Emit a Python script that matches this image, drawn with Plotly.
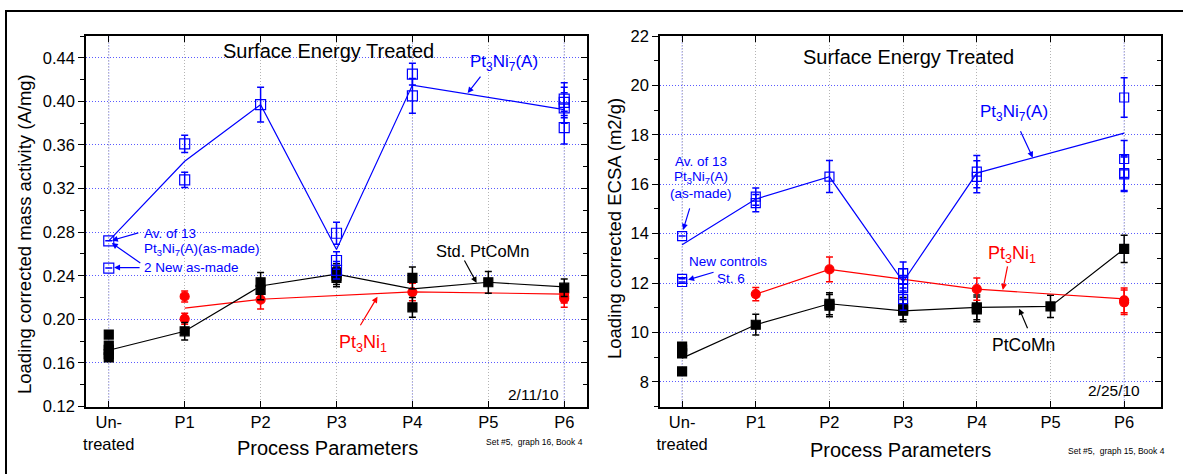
import plotly.graph_objects as go

# ---------------- data ----------------
cat_keys = ["U", "P1", "P2", "P3", "P4", "P5", "P6"]
cat_labels = ["Un-<br>treated", "P1", "P2", "P3", "P4", "P5", "P6"]

# Left: mass activity (A/mg)
ma_pt37_x = ["U", "U", "P1", "P1", "P2", "P3", "P3", "P3", "P4", "P4", "P6", "P6", "P6", "P6"]
ma_pt37_y = [0.272, 0.247, 0.361, 0.328, 0.397, 0.279, 0.254, 0.245, 0.425, 0.405, 0.402, 0.399, 0.394, 0.376]
ma_pt37_e = [0, 0, 0.008, 0.007, 0.016, 0.010, 0.008, 0.008, 0.010, 0.016, 0.015, 0.014, 0.014, 0.015]
ma_pt37_line_x = ["U", "P1", "P2", "P3", "P4", "P6"]
ma_pt37_line_y = [0.272, 0.345, 0.397, 0.264, 0.415, 0.3925]

ma_pt31_x = ["P1", "P1", "P2", "P4", "P6", "P6", "P6"]
ma_pt31_y = [0.221, 0.2005, 0.218, 0.225, 0.224, 0.221, 0.219]
ma_pt31_e = [0.005, 0.005, 0.0085, 0.008, 0.006, 0.006, 0.008]
ma_pt31_line_x = ["P1", "P2", "P4", "P6"]
ma_pt31_line_y = [0.2103, 0.2184, 0.2252, 0.2232]

ma_pcm_x = ["U", "U", "U", "U", "U", "P1", "P2", "P2", "P3", "P3", "P3", "P4", "P4", "P5", "P6"]
ma_pcm_y = [0.186, 0.176, 0.172, 0.168, 0.165, 0.189, 0.234, 0.227, 0.243, 0.240, 0.238, 0.238, 0.211, 0.234, 0.229]
ma_pcm_e = [0, 0, 0, 0, 0, 0.008, 0.009, 0.009, 0.008, 0.008, 0.008, 0.010, 0.009, 0.010, 0.008]
ma_pcm_line_x = ["U", "P1", "P2", "P3", "P4", "P5", "P6"]
ma_pcm_line_y = [0.1716, 0.189, 0.2306, 0.2414, 0.228, 0.234, 0.2297]

# Right: ECSA (m2/g)
ec_pt37_x = ["U", "U", "U", "P1", "P1", "P2", "P3", "P3", "P3", "P3", "P4", "P4", "P6", "P6", "P6", "P6"]
ec_pt37_y = [13.9, 12.17, 12.04, 15.5, 15.23, 16.31, 12.4, 12.13, 11.79, 11.35, 16.51, 16.3, 19.51, 17.02, 16.45, 16.4]
ec_pt37_e = [0, 0, 0, 0.35, 0.35, 0.65, 0.45, 0.45, 0.45, 0.45, 0.65, 0.65, 0.8, 0.75, 0.7, 0.7]
ec_pt37_line_x = ["U", "P1", "P2", "P3", "P4", "P6"]
ec_pt37_line_y = [13.55, 15.4, 16.3, 12.05, 16.45, 18.07]

ec_pt31_x = ["P1", "P2", "P4", "P6", "P6"]
ec_pt31_y = [11.55, 12.55, 11.75, 11.3, 11.22]
ec_pt31_e = [0.27, 0.5, 0.45, 0.5, 0.5]
ec_pt31_line_x = ["P1", "P2", "P4", "P6"]
ec_pt31_line_y = [11.55, 12.55, 11.75, 11.36]

ec_pcm_x = ["U", "U", "U", "U", "P1", "P2", "P2", "P3", "P3", "P4", "P4", "P5", "P6"]
ec_pcm_y = [9.43, 9.3, 9.15, 8.42, 10.31, 11.16, 11.08, 10.96, 10.88, 11.01, 10.93, 11.05, 13.38]
ec_pcm_e = [0, 0, 0, 0, 0.42, 0.45, 0.45, 0.45, 0.45, 0.5, 0.5, 0.45, 0.55]
ec_pcm_line_x = ["U", "P1", "P2", "P3", "P4", "P5", "P6"]
ec_pcm_line_y = [8.96, 10.31, 11.16, 10.87, 11.01, 11.05, 13.38]


def ix(keys):
    return [cat_keys.index(k) for k in keys]


BLUE = "#0000ff"
RED = "#ff0000"
BLACK = "#000000"
FONT = "Arial, Liberation Sans, sans-serif"
GRID_DASH = "1px,2px"

fig = go.Figure()


def add_series(xa, ya, lx, ly, px, py, pe, color, symbol, size, lw=1.2):
    fig.add_trace(go.Scatter(x=ix(lx), y=ly, mode="lines", line=dict(color=color, width=1.2),
                             xaxis=xa, yaxis=ya, showlegend=False, hoverinfo="skip"))
    fig.add_trace(go.Scatter(x=ix(px), y=py, mode="markers",
                             marker=dict(symbol=symbol, size=size, color=color,
                                         line=dict(color=color, width=lw)),
                             error_y=dict(type="data", array=pe, color=color, thickness=1.5, width=3.5),
                             xaxis=xa, yaxis=ya, showlegend=False, hoverinfo="skip"))


# Left chart
add_series("x", "y", ma_pt31_line_x, ma_pt31_line_y, ma_pt31_x, ma_pt31_y, ma_pt31_e, RED, "circle", 9)
add_series("x", "y", ma_pcm_line_x, ma_pcm_line_y, ma_pcm_x, ma_pcm_y, ma_pcm_e, BLACK, "square", 9)
add_series("x", "y", ma_pt37_line_x, ma_pt37_line_y, ma_pt37_x, ma_pt37_y, ma_pt37_e, BLUE, "square-open", 10)
# Right chart
add_series("x2", "y2", ec_pcm_line_x, ec_pcm_line_y, ec_pcm_x, ec_pcm_y, ec_pcm_e, BLACK, "square", 9)
add_series("x2", "y2", ec_pt31_line_x, ec_pt31_line_y, ec_pt31_x, ec_pt31_y, ec_pt31_e, RED, "circle", 9)
add_series("x2", "y2", ec_pt37_line_x, ec_pt37_line_y, ec_pt37_x, ec_pt37_y, ec_pt37_e, BLUE, "square-open", 9)

# dummy traces for mirror axes
for xa, ya in (("x3", "y3"), ("x4", "y4")):
    fig.add_trace(go.Scatter(x=[None], y=[None], xaxis=xa, yaxis=ya, showlegend=False, hoverinfo="skip"))

W, H = 1183, 474
Ldom = [86 / W, 587 / W]
Rdom = [660 / W, 1161 / W]
Ydom = [(H - 406.5) / H, (H - 36) / H]

tickfont = dict(family=FONT, size=16.5, color="black")


def xaxis_cfg(dom, rng, anchor):
    return dict(domain=dom, range=rng, anchor=anchor, tickmode="array", tickvals=list(range(7)),
                ticktext=cat_labels, tickfont=tickfont, showline=True, linecolor="black", linewidth=1.5,
                ticks="inside", ticklen=6, tickcolor="black", tickwidth=1.2, automargin=False,
                showgrid=True, gridcolor="#b4b4b4", griddash=GRID_DASH, gridwidth=1, zeroline=False,
                fixedrange=True)


def yaxis_cfg(dom, rng, anchor, dtick, tick0, minor_dtick, fmt):
    return dict(domain=dom, range=rng, anchor=anchor, dtick=dtick, tick0=tick0, tickformat=fmt,
                tickfont=tickfont, showline=True, linecolor="black", linewidth=1.5,
                ticks="outside", ticklen=6, tickcolor="black", tickwidth=1.2, automargin=False,
                minor=dict(dtick=minor_dtick, ticks="outside", ticklen=4, tickcolor="black", showgrid=False),
                showgrid=True, gridcolor="#5a5aff", griddash=GRID_DASH, gridwidth=1, zeroline=False,
                fixedrange=True)


def mirror_x(over, anchor, rng):
    return dict(overlaying=over, anchor=anchor, side="top", range=rng, tickmode="array",
                tickvals=list(range(7)), showticklabels=False, showline=True, linecolor="black",
                linewidth=1.5, ticks="inside", ticklen=6, tickcolor="black", tickwidth=1.2,
                showgrid=False, zeroline=False, automargin=False, fixedrange=True)


def mirror_y(over, anchor, rng, dtick, tick0, minor_dtick):
    return dict(overlaying=over, anchor=anchor, side="right", range=rng, dtick=dtick, tick0=tick0,
                showticklabels=False, showline=True, linecolor="black", linewidth=1.5,
                ticks="inside", ticklen=6, tickcolor="black", tickwidth=1.2,
                minor=dict(dtick=minor_dtick, ticks="inside", ticklen=4, tickcolor="black", showgrid=False),
                showgrid=False, zeroline=False, automargin=False, fixedrange=True)


LX = [-0.3, 6.3]
LY = [0.12, 0.46]
RX = [-0.3, 6.5]
RY = [7, 22]

fig.update_layout(
    width=W, height=H, margin=dict(l=0, r=0, t=0, b=0, pad=0, autoexpand=False),
    paper_bgcolor="white", plot_bgcolor="white", showlegend=False,
    font=dict(family=FONT, color="black"),
    xaxis=xaxis_cfg(Ldom, LX, "y"),
    yaxis=yaxis_cfg(Ydom, LY, "x", 0.04, 0.12, 0.02, ".2f"),
    xaxis2=xaxis_cfg(Rdom, RX, "y2"),
    yaxis2=yaxis_cfg(Ydom, RY, "x2", 2, 8, 1, "d"),
    xaxis3=mirror_x("x", "y", LX),
    yaxis3=mirror_y("y", "x", LY, 0.04, 0.12, 0.02),
    xaxis4=mirror_x("x2", "y2", RX),
    yaxis4=mirror_y("y2", "x2", RY, 2, 8, 1),
)

shapes = []
# blue dotted verticals
for xv in (0, 4, 6):
    shapes.append(dict(type="line", xref="x", yref="y domain", x0=xv, x1=xv, y0=0, y1=1,
                       line=dict(color="#5a5aff", width=1, dash=GRID_DASH), layer="below"))
for xv in (0, 6):
    shapes.append(dict(type="line", xref="x2", yref="y2 domain", x0=xv, x1=xv, y0=0, y1=1,
                       line=dict(color="#5a5aff", width=1, dash=GRID_DASH), layer="below"))
# outer frame
shapes.append(dict(type="rect", xref="paper", yref="paper", x0=6 / W, x1=1.05, y0=-0.05, y1=(H - 11) / H,
                   line=dict(color="black", width=2), fillcolor="rgba(0,0,0,0)"))
fig.update_layout(shapes=shapes)

ann = []


def text(x, y, s, color="black", size=16, xref="x", yref="y", xanchor="center", angle=0):
    ann.append(dict(x=x, y=y, xref=xref, yref=yref, text=s, showarrow=False, xanchor=xanchor,
                    yanchor="middle", textangle=angle, font=dict(family=FONT, size=size, color=color)))


def arrow(x, y, ax, ay, color, xref="x", yref="y"):
    ann.append(dict(x=x, y=y, xref=xref, yref=yref, ax=ax, ay=ay, text="", showarrow=True,
                    arrowhead=2, arrowsize=1, arrowwidth=1.2, arrowcolor=color, standoff=0))


# ----- left chart annotations -----
text(2.9, 0.446, "Surface Energy Treated", size=20)
text(5.2, 0.435, "Pt<sub>3</sub>Ni<sub>7</sub>(A)", BLUE, 17)
arrow(4.728, 0.4076, 14, -18, BLUE)
text(0.44, 0.2792, "Av. of 13", BLUE, 13.5, xanchor="left")
text(0.44, 0.2644, "Pt<sub>3</sub>Ni<sub>7</sub>(A)(as-made)", BLUE, 13.5, xanchor="left")
text(0.44, 0.2475, "2 New as-made", BLUE, 13.5, xanchor="left")
arrow(0.04, 0.2724, 28, -8, BLUE)
arrow(0.04, 0.2700, 30, 21, BLUE)
arrow(0.07, 0.2475, 27, 0, BLUE)
text(4.925, 0.2629, "Std. PtCoMn", BLACK, 16.5)
arrow(4.846, 0.2334, -13, -24, BLACK)
text(3.345, 0.178, "Pt<sub>3</sub>Ni<sub>1</sub>", RED, 18)
arrow(3.54, 0.2207, -18, 30, RED)
text(5.96, 0.131, "2/11/10", BLACK, 15.5, xanchor="right")
text(585 / W, (H - 442) / H, "Set #5,  graph 16, Book 4", BLACK, 8.5, xref="paper", yref="paper", xanchor="right")
text(327 / W, (H - 448) / H, "Process Parameters", BLACK, 20, xref="paper", yref="paper")
text(25 / W, (H - 234) / H, "Loading corrected mass activity (A/mg)", BLACK, 18.5, xref="paper", yref="paper", angle=-90)

# ----- right chart annotations -----
text(3.077, 21.16, "Surface Energy Treated", size=20, xref="x2", yref="y2")
text(4.503, 18.89, "Pt<sub>3</sub>Ni<sub>7</sub>(A)", BLUE, 17, xref="x2", yref="y2")
arrow(4.76, 17.07, -13, -28, BLUE, xref="x2", yref="y2")
text(0.263, 16.92, "Av. of 13", BLUE, 13.5, xref="x2", yref="y2")
text(0.263, 16.29, "Pt<sub>3</sub>Ni<sub>7</sub>(A)", BLUE, 13.5, xref="x2", yref="y2")
text(0.263, 15.64, "(as-made)", BLUE, 13.5, xref="x2", yref="y2")
arrow(0.014, 14.15, 7, -23, BLUE, xref="x2", yref="y2")
text(0.06, 12.86, "New controls", BLUE, 13.5, xref="x2", yref="y2", xanchor="left")
text(0.445, 12.17, "St. 6", BLUE, 13.5, xref="x2", yref="y2", xanchor="left")
arrow(0.081, 12.13, 27, -8, BLUE, xref="x2", yref="y2")
text(4.475, 13.14, "Pt<sub>3</sub>Ni<sub>1</sub>", RED, 18, xref="x2", yref="y2")
arrow(4.353, 11.72, 5, -25, RED, xref="x2", yref="y2")
text(4.638, 9.50, "PtCoMn", BLACK, 17.5, xref="x2", yref="y2")
arrow(4.575, 10.96, 9, 21, BLACK, xref="x2", yref="y2")
text(6.24, 7.64, "2/25/10", BLACK, 15.5, xref="x2", yref="y2", xanchor="right")
text(1167 / W, (H - 451) / H, "Set #5,  graph 15, Book 4", BLACK, 8.5, xref="paper", yref="paper", xanchor="right")
text(900 / W, (H - 450) / H, "Process Parameters", BLACK, 20, xref="paper", yref="paper")
text(614 / W, (H - 229) / H, "Loading corrected ECSA (m2/g)", BLACK, 18.5, xref="paper", yref="paper", angle=-90)

fig.update_layout(annotations=ann)

fig.write_html("out.html",
               post_script="document.body.style.margin='0';document.body.style.padding='0';"
                           "document.documentElement.style.overflow='hidden';document.body.style.overflow='hidden';")
